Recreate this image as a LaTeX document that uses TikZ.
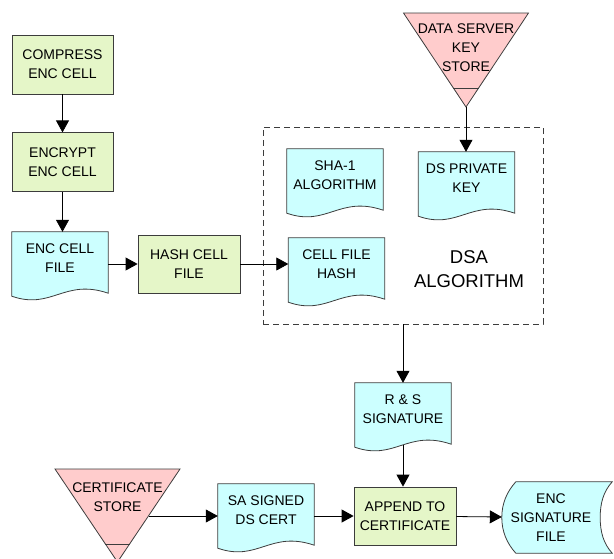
\documentclass[tikz,border=0pt]{standalone}
\usepackage{fontspec}
\setmainfont{Liberation Sans}
\usetikzlibrary{arrows.meta,positioning,backgrounds}

\definecolor{procgreen}{RGB}{229,246,200}
\definecolor{docblue}{RGB}{204,255,255}
\definecolor{storepink}{RGB}{255,204,204}
\definecolor{edgegray}{RGB}{60,60,60}

\begin{document}
\begin{tikzpicture}[x=1pt, y=1pt, >={Triangle[length=12pt,width=13pt]},
  font=\fontsize{14}{19}\selectfont]
  \tikzset{
    proc/.style={rectangle, draw=edgegray, fill=procgreen, line width=0.8pt,
      minimum width=101pt, minimum height=59pt, align=center, inner sep=0pt},
    doc/.style={minimum width=96pt, minimum height=52pt, align=center, inner sep=0pt},
    docshape/.style={draw=edgegray, fill=docblue, line width=0.8pt},
    store/.style={draw=edgegray, fill=storepink, line width=0.8pt},
    arr/.style={->, line width=0.8pt},
  }
  \useasboundingbox (0,0) rectangle (614,-558);

  % left column
  \node[proc] (compress) at (62.5,-64.5) {COMPRESS\\ENC CELL};
  \node[proc, below=38pt of compress] (encrypt) {ENCRYPT\\ENC CELL};
  \node[doc] (encfile) at (60,-258) {ENC CELL\\FILE};
  \node[proc, minimum width=102pt, minimum height=58pt] (hash) at (189,-264) {HASH CELL\\FILE};

  % DSA group
  \node[draw=edgegray, line width=0.8pt, dash pattern=on 6pt off 4pt,
    minimum width=280pt, minimum height=197pt] (dsabox) at (403,-225.5) {};
  \node[align=center, font=\fontsize{18.5}{24}\selectfont] (dsalabel) at (469,-269) {DSA\\ALGORITHM};
  \node[doc] (sha) at (335,-175) {SHA-1\\ALGORITHM};
  \node[doc] (dskey) at (466.5,-178) {DS PRIVATE\\KEY};
  \node[doc] (cellhash) at (336.5,-264) {CELL FILE\\HASH};
  \node[align=center, inner sep=0pt] (dsstore) at (466,-48) {DATA SERVER\\KEY\\STORE};
  \coordinate (dsapex) at ([yshift=-59pt]dsstore.center);

  % bottom row
  \node[doc] (rs) at (403,-409) {R \& S\\SIGNATURE};
  \coordinate (rsbot) at ([yshift=-10pt]rs.south);
  \node[proc, minimum width=102pt, minimum height=58pt] (append) at (405,-516) {APPEND TO\\CERTIFICATE};
  \node[doc] (sa) at (266,-510) {SA SIGNED\\DS CERT};
  \node[align=center, inner sep=0pt] (certstore) at (117.5,-497) {CERTIFICATE\\STORE};
  \coordinate (certout) at ([shift={(31,-19)}]certstore.center);
  \node[minimum width=98pt, minimum height=71pt, align=center, inner sep=0pt] (encsig) at (551,-517.5) {ENC\\SIGNATURE\\FILE};

  \begin{scope}[on background layer]
    \foreach \d in {encfile,sha,dskey,cellhash,rs,sa}
      \draw[docshape] (\d.north west) -- ([yshift=-12pt]\d.south west)
        .. controls +(40,-14) and +(-44,15) .. ([yshift=-9pt]\d.south east)
        -- (\d.north east) -- cycle;
    \draw[store] ([shift={(-62.5,35)}]dsstore.center) -- ([shift={(62.5,35)}]dsstore.center)
      -- (dsapex) -- cycle;
    \draw[edgegray, line width=0.8pt] ([shift={(-12.6,-40)}]dsstore.center) -- ([shift={(12.6,-40)}]dsstore.center);
    \draw[store] ([shift={(-62.5,28)}]certstore.center) -- ([shift={(62.5,28)}]certstore.center)
      -- ([shift={(0,-65)}]certstore.center) -- cycle;
    \draw[edgegray, line width=0.8pt] ([shift={(-12.1,-47)}]certstore.center) -- ([shift={(12.1,-47)}]certstore.center);
    \draw[docshape] ([xshift=14pt]encsig.north west) -- ([xshift=12pt]encsig.north east)
      .. controls +(-9,-10) and +(0,14) .. (encsig.east)
      .. controls +(0,-14) and +(-9,10) .. ([xshift=12pt]encsig.south east)
      -- ([xshift=14pt]encsig.south west)
      .. controls +(-9,10) and +(0,-14) .. (encsig.west)
      .. controls +(0,14) and +(-9,-10) .. ([xshift=14pt]encsig.north west) -- cycle;
  \end{scope}

  \draw[arr] (compress) -- (encrypt);
  \draw[arr] (encrypt) -- (encrypt |- encfile.north);
  \draw[arr] (encfile.east |- hash) -- (hash);
  \draw[arr] (hash) -- (cellhash);
  \draw[arr] (dsapex) -- (dsapex |- dskey.north);
  \draw[arr] (dsabox) -- (rs);
  \draw[arr] (rsbot) -- (rsbot |- append.north);
  \draw[arr] (certout) -- (sa.west |- certout);
  \draw[arr] (sa.east |- append) -- (append);
  \draw[arr] (append) -- (encsig);
\end{tikzpicture}
\end{document}
